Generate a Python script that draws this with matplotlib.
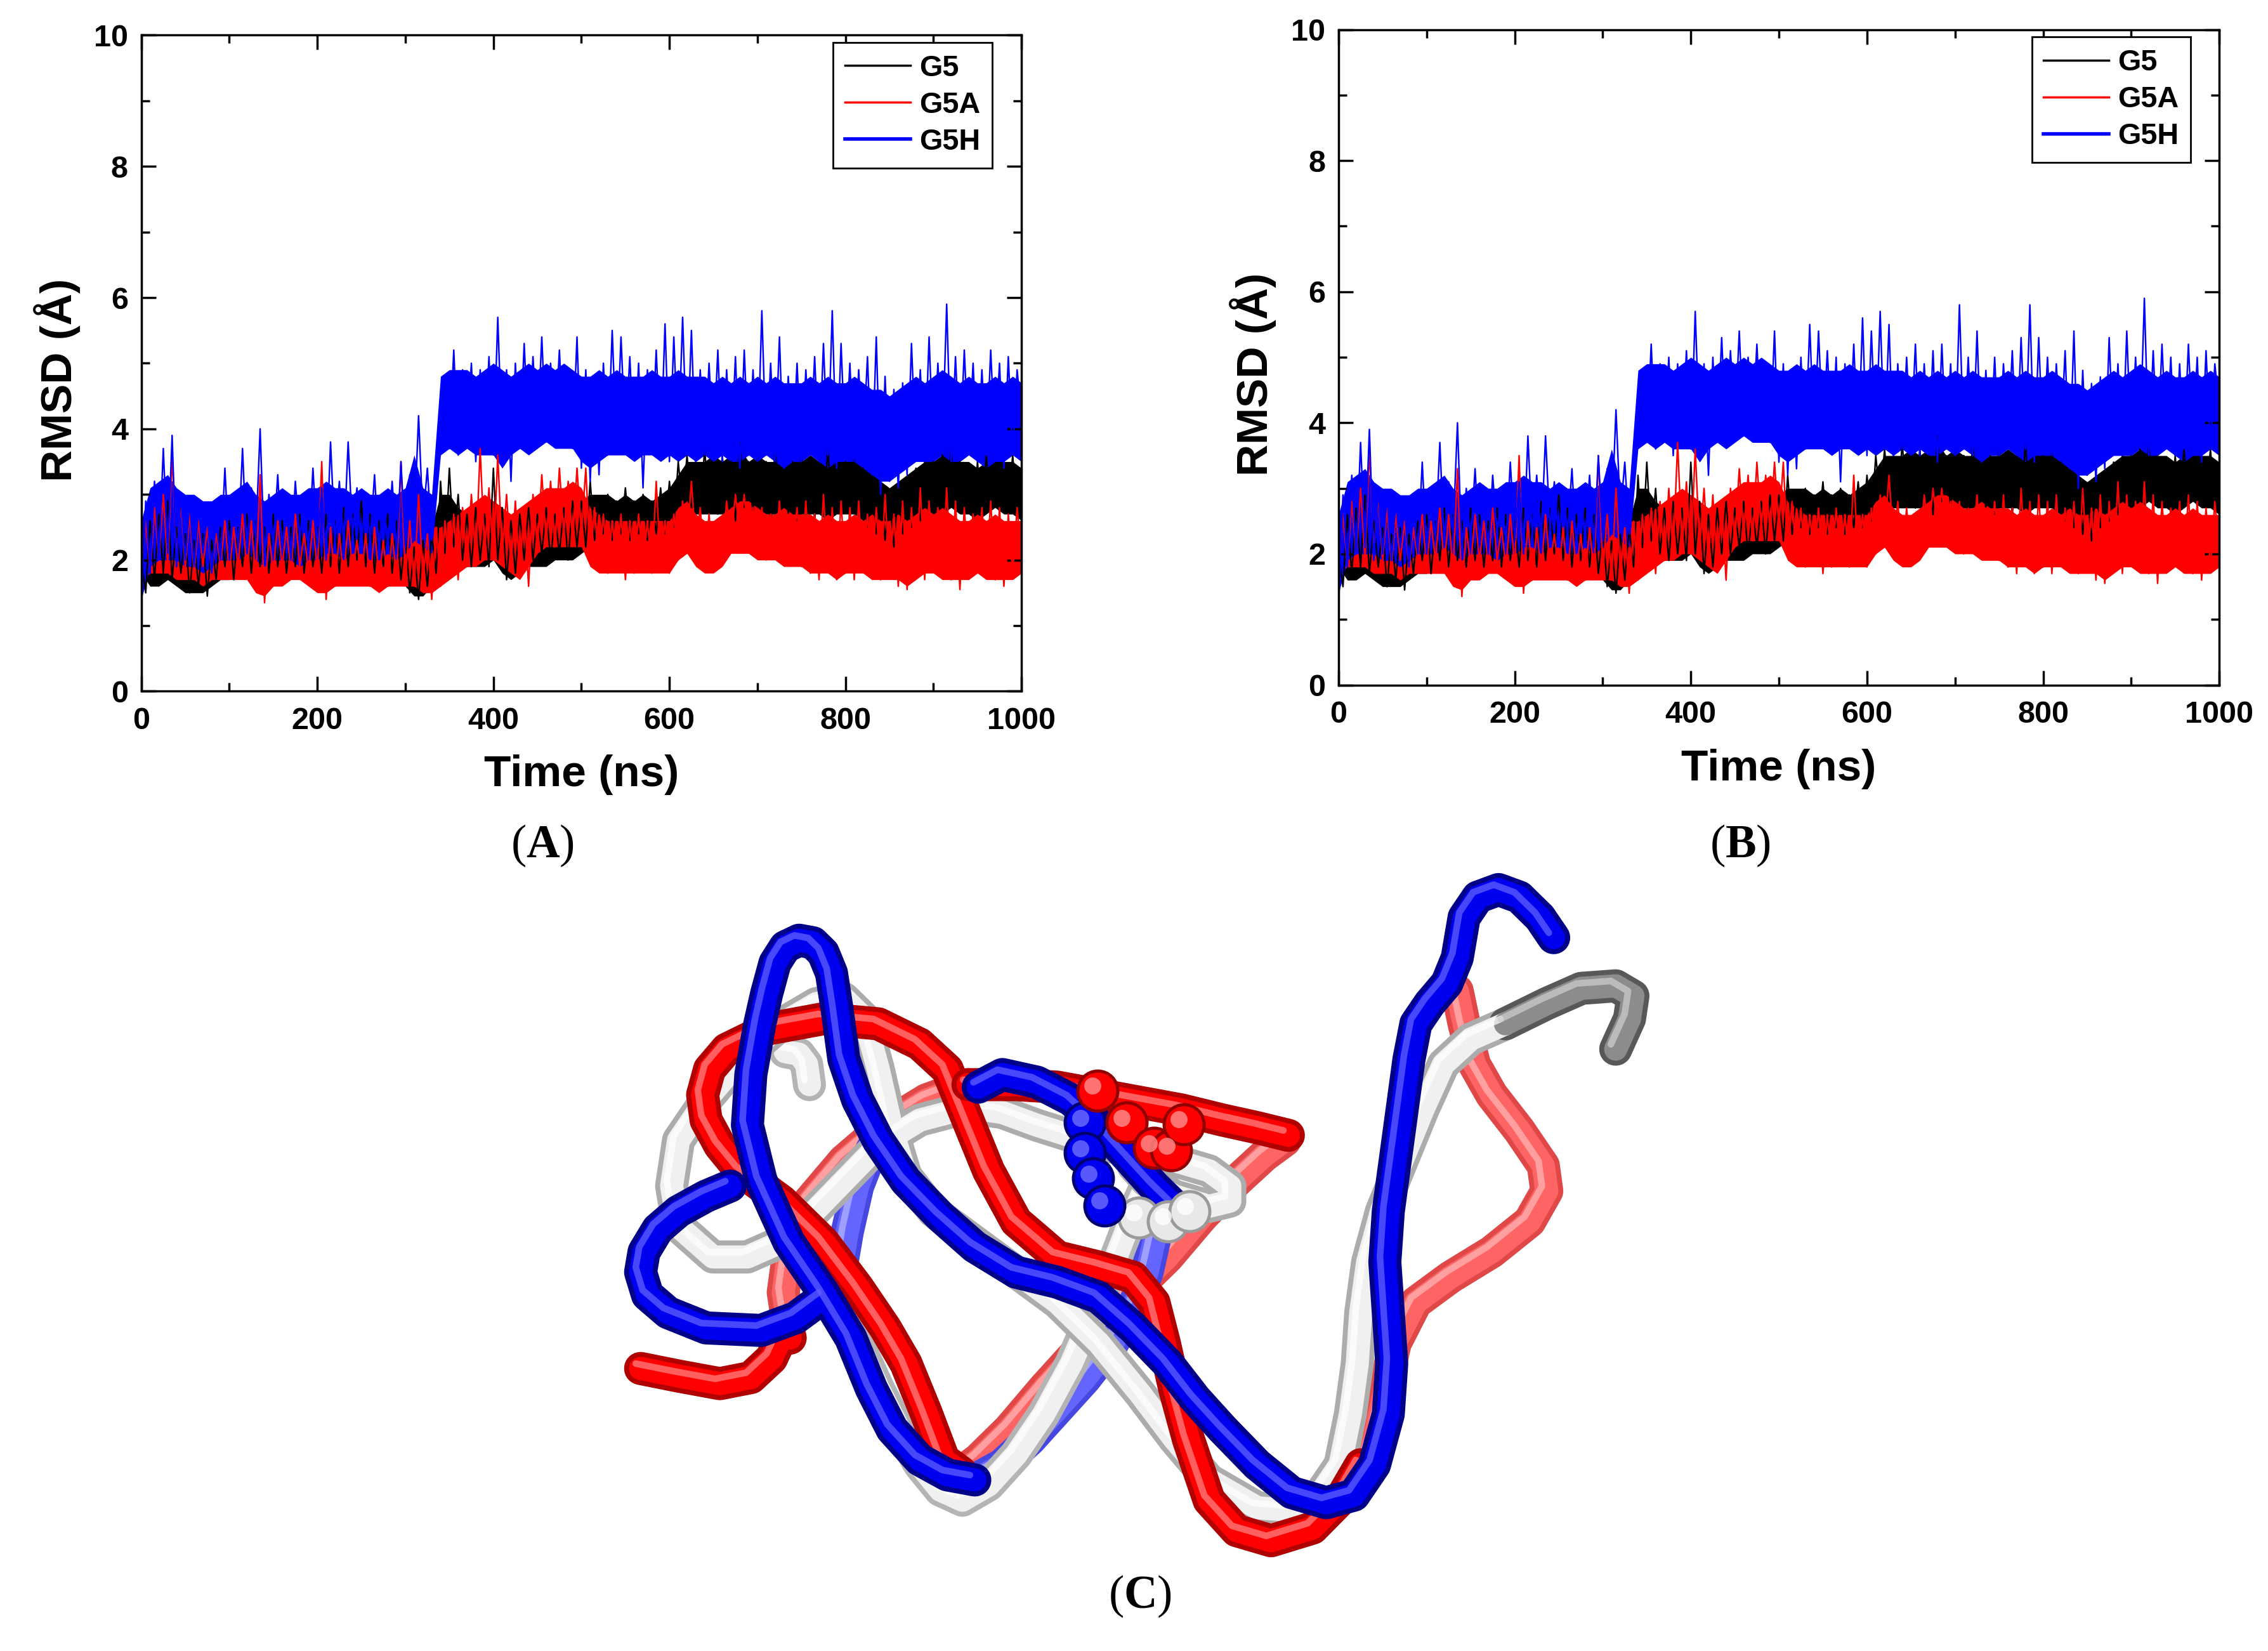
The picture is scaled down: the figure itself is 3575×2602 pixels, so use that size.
import numpy as np
import matplotlib
matplotlib.use('Agg')
import matplotlib.pyplot as plt
from matplotlib.ticker import MultipleLocator
from matplotlib.lines import Line2D
import matplotlib.transforms as mtransforms

plt.rcParams['font.family'] = ['Liberation Sans', 'DejaVu Sans']
plt.rcParams['font.weight'] = 'bold'
plt.rcParams['mathtext.fontset'] = 'custom'
plt.rcParams['mathtext.rm'] = 'Liberation Serif'
plt.rcParams['mathtext.bf'] = 'Liberation Serif:bold'

# ---- RMSD traces ----
# extremes of the noisy trace, every 5 ns
time_ns = np.arange(0, 1001, 5)
# solid core of each band, every 10 ns
core_ns = np.arange(0, 1001, 10)

rmsd_g5 = [
    2.0, 1.5, 2.6, 1.7, 2.7, 1.8, 2.9, 1.7, 2.5, 1.8, 2.4, 1.5, 2.3, 1.6, 2.4, 1.45, 2.3, 1.7, 2.5, 1.9,
    2.6, 1.7, 2.5, 1.9, 2.7, 1.8, 2.6, 1.9, 2.5, 1.8, 2.7, 1.9, 2.6, 1.8, 2.5, 1.9, 2.7, 1.8, 2.6, 1.9,
    2.5, 1.8, 2.7, 1.9, 2.6, 1.8, 2.8, 1.9, 2.7, 2.0, 2.9, 1.9, 2.7, 1.8, 2.6, 1.9, 2.7, 1.8, 2.6, 1.7,
    2.4, 1.5, 2.2, 1.4, 2.3, 1.6, 2.4, 1.8, 3.2, 2.1, 3.4, 2.2, 3.0, 2.0, 2.7, 1.9, 2.8, 2.0, 2.7, 1.9,
    3.4, 2.0, 2.8, 1.7, 2.6, 1.8, 2.7, 2.0, 2.8, 2.0, 2.7, 2.1, 2.8, 2.0, 2.7, 2.1, 2.8, 2.0, 2.9, 2.2,
    2.9, 2.2, 3.2, 2.3, 2.9, 2.4, 3.0, 2.3, 2.9, 2.4, 3.1, 2.3, 2.9, 2.4, 3.0, 2.3, 2.9, 2.4, 3.1, 2.4,
    3.2, 2.5, 3.5, 2.8, 3.6, 2.8, 3.5, 2.7, 3.7, 2.8, 3.4, 2.7, 3.6, 2.8, 3.5, 2.6, 3.8, 2.8, 3.5, 2.7,
    3.6, 2.7, 3.5, 2.6, 3.7, 2.8, 3.4, 2.7, 3.5, 2.6, 3.6, 2.7, 3.5, 2.6, 3.4, 2.7, 3.7, 2.6, 3.5, 2.7,
    3.5, 2.6, 3.6, 2.7, 3.4, 2.5, 3.3, 2.4, 3.2, 2.3, 3.0, 2.2, 3.1, 2.4, 3.2, 2.5, 3.4, 2.6, 3.5, 2.7,
    3.5, 2.7, 3.6, 2.8, 3.7, 2.7, 3.5, 2.8, 3.4, 2.6, 3.5, 2.7, 3.6, 2.8, 3.4, 2.7, 3.5, 2.8, 3.6, 2.7,
    3.1]

rmsd_g5a = [
    1.6, 2.6, 1.8, 2.8, 2.0, 3.0, 1.9, 3.6, 2.0, 2.9, 1.9, 2.7, 1.8, 2.6, 1.9, 2.5, 1.8, 2.4, 1.9, 2.6,
    1.8, 2.5, 1.9, 2.7, 1.8, 2.6, 1.7, 3.3, 1.35, 2.4, 1.8, 2.6, 1.9, 2.5, 1.8, 2.7, 1.9, 2.4, 1.8, 2.6,
    1.8, 3.5, 1.4, 2.5, 1.6, 2.4, 1.7, 2.6, 1.8, 2.3, 1.7, 2.4, 1.6, 2.5, 1.7, 2.3, 1.6, 2.4, 1.7, 3.5,
    1.7, 2.6, 1.6, 3.0, 1.7, 2.4, 1.4, 2.5, 1.6, 2.6, 1.8, 2.7, 1.7, 2.8, 1.9, 3.0, 2.0, 3.7, 2.1, 3.1,
    2.0, 3.6, 2.1, 3.0, 1.9, 2.9, 1.8, 2.8, 1.6, 3.0, 2.2, 3.3, 2.3, 3.2, 2.2, 3.4, 2.4, 3.2, 2.3, 3.4,
    2.4, 3.4, 2.0, 2.8, 1.9, 2.7, 1.8, 2.6, 1.9, 2.7, 1.7, 2.6, 1.8, 2.7, 1.9, 2.6, 1.8, 3.2, 1.9, 2.6,
    1.8, 2.7, 2.0, 2.9, 2.3, 3.2, 2.2, 2.8, 1.9, 2.7, 1.9, 2.6, 2.1, 2.9, 2.3, 3.0, 2.4, 3.0, 2.2, 2.8,
    2.1, 2.8, 2.0, 2.7, 2.1, 2.9, 2.0, 2.7, 2.1, 2.8, 1.9, 2.9, 1.8, 2.7, 1.7, 3.0, 1.9, 2.8, 1.7, 2.9,
    1.8, 2.8, 1.7, 2.9, 1.9, 2.7, 1.8, 2.8, 1.7, 3.0, 1.8, 2.7, 1.6, 2.9, 1.55, 2.8, 1.8, 3.1, 1.7, 2.9,
    1.9, 2.8, 1.8, 3.1, 1.7, 2.9, 1.55, 2.8, 1.8, 2.7, 1.9, 2.8, 1.8, 2.9, 1.7, 2.8, 1.6, 2.7, 1.8, 2.8,
    2.0]

rmsd_g5h = [
    1.2, 2.9, 1.8, 3.2, 2.0, 3.7, 2.1, 3.9, 1.9, 3.0, 2.0, 2.9, 1.9, 2.8, 2.1, 2.7, 1.8, 2.6, 2.0, 3.4,
    2.0, 3.0, 2.2, 3.7, 2.1, 3.1, 2.3, 4.0, 2.0, 3.0, 2.2, 3.3, 2.1, 2.9, 2.0, 3.2, 2.3, 3.0, 2.1, 3.4,
    2.2, 3.1, 2.0, 3.8, 2.3, 3.2, 2.2, 3.8, 2.4, 3.1, 2.2, 3.0, 2.3, 3.3, 2.1, 3.0, 2.2, 3.2, 2.1, 3.5,
    2.2, 3.3, 2.5, 4.2, 2.6, 3.4, 2.3, 3.1, 3.8, 4.8, 3.7, 5.2, 3.6, 4.9, 3.8, 5.0, 3.5, 4.9, 3.7, 5.1,
    3.6, 5.7, 3.7, 4.9, 3.2, 5.0, 3.7, 5.3, 3.8, 5.1, 3.9, 5.4, 3.8, 5.0, 3.9, 5.2, 3.8, 4.9, 3.7, 5.4,
    3.4, 4.9, 3.2, 4.8, 3.3, 5.0, 3.6, 5.5, 3.7, 5.4, 3.8, 5.1, 3.6, 5.0, 3.1, 4.9, 3.7, 5.2, 3.6, 5.6,
    3.5, 5.4, 3.7, 5.7, 3.6, 5.5, 3.5, 4.9, 3.6, 5.0, 3.7, 5.2, 3.5, 4.9, 3.6, 5.1, 3.4, 5.2, 3.6, 4.9,
    3.5, 5.8, 3.6, 5.0, 3.5, 5.4, 3.4, 4.8, 3.6, 5.0, 3.5, 4.9, 3.7, 5.1, 3.5, 5.3, 3.6, 5.8, 3.4, 5.3,
    3.6, 5.0, 3.5, 4.9, 3.7, 5.1, 3.3, 5.4, 3.0, 4.8, 3.2, 4.6, 3.1, 4.7, 3.3, 5.3, 3.6, 4.9, 3.5, 5.4,
    3.6, 5.0, 3.7, 5.9, 3.5, 5.1, 3.6, 5.2, 3.7, 5.0, 3.5, 4.9, 3.6, 5.2, 3.7, 5.0, 3.4, 5.1, 3.6, 4.9,
    4.2]

g5_core_hi = [
    2.3, 2.5, 2.6, 2.5, 2.4, 2.4, 2.3, 2.3, 2.4, 2.5,
    2.5, 2.6, 2.5, 2.5, 2.6, 2.5, 2.5, 2.6, 2.5, 2.6,
    2.6, 2.6, 2.7, 2.6, 2.7, 2.8, 2.7, 2.6, 2.6, 2.5,
    2.4, 2.2, 2.3, 2.5, 3.0, 3.0, 2.8, 2.7, 2.7, 2.8,
    2.9, 2.8, 2.6, 2.7, 2.8, 2.8, 2.7, 2.8, 2.8, 2.9,
    2.9, 3.0, 3.0, 3.0, 2.9, 3.0, 2.9, 3.0, 2.9, 3.0,
    3.1, 3.3, 3.5, 3.5, 3.5, 3.6, 3.5, 3.6, 3.7, 3.5,
    3.6, 3.5, 3.5, 3.6, 3.5, 3.5, 3.6, 3.5, 3.5, 3.6,
    3.5, 3.6, 3.5, 3.4, 3.2, 3.1, 3.2, 3.3, 3.4, 3.5,
    3.5, 3.6, 3.6, 3.5, 3.5, 3.4, 3.5, 3.6, 3.5, 3.5,
    3.4]
g5_core_lo = [
    1.8, 1.6, 1.6, 1.7, 1.6, 1.5, 1.5, 1.5, 1.6, 1.7,
    1.7, 1.8, 1.7, 1.8, 1.7, 1.8, 1.7, 1.8, 1.8, 1.7,
    1.8, 1.8, 1.9, 1.8, 1.8, 1.9, 1.8, 1.8, 1.7, 1.7,
    1.6, 1.45, 1.45, 1.6, 2.1, 2.1, 2.0, 1.9, 1.9, 1.9,
    2.0, 1.8, 1.7, 1.8, 1.9, 1.9, 1.9, 2.0, 2.0, 2.0,
    2.1, 2.2, 2.2, 2.2, 2.2, 2.2, 2.2, 2.2, 2.2, 2.2,
    2.3, 2.5, 2.7, 2.7, 2.7, 2.7, 2.7, 2.7, 2.8, 2.7,
    2.7, 2.7, 2.7, 2.7, 2.6, 2.7, 2.7, 2.7, 2.6, 2.7,
    2.7, 2.7, 2.6, 2.5, 2.3, 2.2, 2.3, 2.4, 2.6, 2.7,
    2.7, 2.7, 2.8, 2.7, 2.7, 2.6, 2.7, 2.8, 2.7, 2.7,
    2.6]

g5a_core_hi = [
    2.2, 2.6, 2.7, 2.6, 2.5, 2.5, 2.4, 2.4, 2.4, 2.5,
    2.4, 2.4, 2.5, 2.4, 2.3, 2.4, 2.4, 2.5, 2.4, 2.4,
    2.4, 2.4, 2.3, 2.4, 2.3, 2.3, 2.4, 2.3, 2.4, 2.3,
    2.4, 2.4, 2.3, 2.5, 2.5, 2.6, 2.7, 2.8, 2.9, 3.0,
    2.9, 2.8, 2.7, 2.8, 2.9, 3.0, 3.1, 3.1, 3.1, 3.2,
    3.1, 2.8, 2.7, 2.6, 2.6, 2.6, 2.6, 2.6, 2.6, 2.6,
    2.6, 2.8, 2.9, 2.7, 2.6, 2.6, 2.7, 2.8, 2.9, 2.9,
    2.8, 2.7, 2.7, 2.8, 2.7, 2.7, 2.7, 2.6, 2.7, 2.6,
    2.6, 2.7, 2.6, 2.7, 2.6, 2.6, 2.7, 2.6, 2.7, 2.8,
    2.7, 2.8, 2.7, 2.6, 2.6, 2.7, 2.6, 2.7, 2.6, 2.6,
    2.6]
g5a_core_lo = [
    1.7, 1.8, 1.8, 1.8, 1.7, 1.7, 1.7, 1.6, 1.7, 1.7,
    1.7, 1.7, 1.7, 1.5, 1.45, 1.6, 1.6, 1.7, 1.7, 1.6,
    1.5, 1.5, 1.6, 1.6, 1.6, 1.6, 1.6, 1.5, 1.6, 1.6,
    1.6, 1.6, 1.5, 1.5, 1.6, 1.7, 1.8, 1.9, 1.9, 2.0,
    2.0, 1.9, 1.8, 1.7, 1.9, 2.1, 2.2, 2.2, 2.2, 2.2,
    2.2, 1.9, 1.8, 1.8, 1.8, 1.8, 1.8, 1.8, 1.8, 1.8,
    1.8, 2.0, 2.1, 1.9, 1.8, 1.8, 1.9, 2.1, 2.1, 2.1,
    2.0, 2.0, 2.0, 1.9, 1.9, 1.9, 1.8, 1.8, 1.8, 1.7,
    1.8, 1.8, 1.8, 1.7, 1.7, 1.7, 1.7, 1.6, 1.7, 1.8,
    1.8, 1.7, 1.7, 1.7, 1.7, 1.8, 1.7, 1.7, 1.7, 1.7,
    1.8]

g5h_core_hi = [
    2.6, 3.1, 3.2, 3.3, 3.1, 3.0, 3.0, 2.9, 2.9, 3.0,
    3.0, 3.1, 3.2, 3.0, 2.9, 3.0, 3.1, 3.0, 3.0, 3.1,
    3.1, 3.2, 3.1, 3.1, 3.0, 3.1, 3.0, 3.0, 3.1, 3.0,
    3.1, 3.6, 3.1, 3.0, 4.8, 4.9, 4.9, 4.9, 4.8, 4.9,
    5.0, 4.9, 4.8, 4.9, 5.0, 4.9, 5.0, 4.9, 5.0, 4.9,
    4.8, 4.8, 4.9, 4.8, 4.9, 4.8, 4.8, 4.8, 4.9, 4.8,
    4.8, 4.9, 4.8, 4.8, 4.8, 4.7, 4.8, 4.7, 4.8, 4.7,
    4.8, 4.7, 4.8, 4.7, 4.7, 4.7, 4.8, 4.7, 4.8, 4.7,
    4.7, 4.8, 4.7, 4.6, 4.6, 4.5, 4.6, 4.7, 4.8, 4.7,
    4.8, 4.9, 4.8, 4.7, 4.8, 4.7, 4.7, 4.8, 4.7, 4.8,
    4.7]
g5h_core_lo = [
    1.4, 1.9, 2.0, 2.0, 2.0, 1.9, 1.9, 1.8, 1.9, 2.0,
    2.0, 2.0, 2.1, 2.0, 1.9, 2.0, 2.0, 2.0, 1.9, 2.0,
    2.0, 2.1, 2.1, 2.0, 2.1, 2.1, 2.0, 2.0, 2.1, 2.0,
    2.1, 2.3, 2.2, 2.1, 3.6, 3.7, 3.6, 3.7, 3.6, 3.6,
    3.6, 3.4, 3.6, 3.7, 3.6, 3.7, 3.8, 3.7, 3.7, 3.7,
    3.5, 3.4, 3.5, 3.6, 3.6, 3.6, 3.5, 3.6, 3.6, 3.5,
    3.6, 3.5, 3.6, 3.5, 3.6, 3.5, 3.6, 3.5, 3.5, 3.6,
    3.5, 3.6, 3.5, 3.4, 3.5, 3.5, 3.6, 3.5, 3.4, 3.5,
    3.5, 3.5, 3.4, 3.3, 3.2, 3.2, 3.3, 3.4, 3.5, 3.5,
    3.5, 3.6, 3.5, 3.5, 3.6, 3.5, 3.4, 3.5, 3.5, 3.6,
    3.5]

series_names = ['G5', 'G5A', 'G5H']
series_colors = ['black', 'red', 'blue']
legend_widths = [1.0, 1.0, 1.6]
series = [(rmsd_g5, g5_core_lo, g5_core_hi),
          (rmsd_g5a, g5a_core_lo, g5a_core_hi),
          (rmsd_g5h, g5h_core_lo, g5h_core_hi)]

# ---- projected backbone traces for panel (C) (picture units, y downwards) ----
g5_end_x = [1470, 1490, 1495, 1470, 1420, 1370, 1310]
g5_end_y = [380, 320, 275, 255, 260, 290, 330]
g5_main_x = [1310, 1260, 1220, 1190, 1160, 1130, 1110, 1100, 1095, 1085, 1070, 1040, 1000, 950, 880, 830,
             780, 720, 660, 600, 540, 480, 440, 420, 400, 380, 350, 310, 260, 200, 150, 110, 100, 110,
             160, 210, 260, 300, 350, 400, 460, 530, 580, 630, 700, 760, 830, 880, 910, 910, 880, 830,
             790, 770]
g5_main_y = [330, 360, 410, 500, 600, 700, 800, 900, 1000, 1100, 1200, 1260, 1290, 1285, 1230, 1150,
             1060, 960, 880, 820, 760, 700, 630, 540, 420, 320, 280, 290, 330, 400, 480, 560, 650, 730,
             790, 790, 760, 710, 640, 570, 520, 495, 505, 530, 560, 580, 600, 620, 650, 680, 690, 670,
             640, 610]
g5_down_x = [785, 765, 745, 715, 680, 640, 600, 560, 522, 490, 460, 430, 400, 370, 330, 290, 255]
g5_down_y = [660, 720, 790, 890, 1000, 1100, 1180, 1240, 1270, 1250, 1200, 1130, 1050, 960, 860, 770, 700]
g5_stub_x = [300, 296, 285, 265]
g5_stub_y = [450, 410, 390, 385]

g5a_tail_x = [55, 110, 170, 215, 245, 262, 272]
g5a_tail_y = [1010, 1025, 1040, 1028, 990, 940, 950]
g5a_main_x = [520, 495, 470, 440, 410, 370, 320, 260, 200, 170, 150, 145, 155, 180, 240, 320, 400, 460,
              500, 530, 560, 600, 660, 720, 770, 800, 815, 830, 850, 880, 920, 970, 1030, 1070, 1100]
g5a_main_y = [1215, 1190, 1100, 1000, 930, 850, 760, 680, 620, 570, 520, 470, 420, 380, 340, 320, 330,
              370, 420, 520, 620, 720, 790, 810, 830, 880, 960, 1050, 1150, 1270, 1330, 1350, 1325, 1270,
              1200]
g5a_ring_x = [530, 600, 660, 720, 780, 840, 900, 950, 995]
g5a_ring_y = [450, 450, 455, 470, 485, 500, 520, 535, 550]
g5a_back1_x = [272, 262, 270, 300, 350, 410, 470, 530]
g5a_back1_y = [950, 860, 780, 680, 600, 530, 480, 450]
g5a_back2_x = [990, 960, 920, 870, 820, 760, 700, 640, 590, 545, 520]
g5a_back2_y = [560, 590, 640, 710, 790, 870, 960, 1050, 1130, 1190, 1215]
g5a_back3_x = [1240, 1250, 1265, 1290, 1330, 1365, 1370, 1345, 1290, 1230, 1180, 1150, 1135, 1120, 1100,
               1070]
g5a_back3_y = [265, 330, 410, 470, 540, 610, 660, 720, 780, 830, 880, 960, 1050, 1150, 1220, 1270]

g5h_main_x = [1380, 1360, 1330, 1300, 1270, 1250, 1240, 1225, 1200, 1180, 1170, 1160, 1150, 1140, 1135,
              1140, 1145, 1140, 1120, 1090, 1050, 1000, 950, 900, 860, 820, 770, 720, 660, 600, 540, 490,
              440, 400, 370, 350, 340, 332, 320, 305, 285, 265, 250, 238, 228, 215, 210, 230, 270, 320,
              360, 390, 420, 460, 500, 540]
g5h_main_y = [160, 120, 80, 65, 80, 120, 200, 250, 290, 330, 400, 500, 600, 700, 800, 900, 1000, 1100,
              1200, 1260, 1275, 1255, 1200, 1130, 1070, 1000, 930, 870, 840, 820, 770, 710, 640, 560, 480,
              400, 300, 230, 190, 170, 165, 178, 210, 270, 330, 430, 530, 640, 760, 860, 950, 1050, 1130,
              1190, 1220, 1230]
g5h_top_x = [545, 580, 630, 680, 720, 760, 800, 830]
g5h_top_y = [455, 430, 445, 480, 530, 590, 650, 690]
g5h_loop_x = [185, 150, 110, 80, 60, 55, 65, 95, 150, 230, 280, 320]
g5h_loop_y = [650, 670, 700, 735, 780, 820, 865, 900, 930, 935, 910, 870]
g5h_back1_x = [540, 580, 620, 660, 700, 740, 770, 790, 800, 810, 820]
g5h_back1_y = [1230, 1200, 1150, 1090, 1030, 960, 890, 820, 760, 700, 680]
g5h_back2_x = [320, 345, 355, 370, 390, 410]
g5h_back2_y = [870, 820, 740, 650, 580, 530]

atoms_blue_x = [700, 700, 712, 728]
atoms_blue_y = [525, 585, 635, 688]
atoms_red_x = [718, 760, 800, 825, 843]
atoms_red_y = [462, 525, 575, 580, 528]
atoms_white_x = [778, 820, 852]
atoms_white_y = [712, 720, 700]

W, H, DPI = 3575, 2602, 250
fig = plt.figure(figsize=(W / DPI, H / DPI), dpi=DPI)
fig.patch.set_facecolor('white')

panels = [
    # axes rect, ylabel coords, xlabel coords, legend anchor, tag, tag pos
    ([0.0623, 0.5813, 0.3881, 0.3974], (-0.0957, 0.474), (0.5, -0.127), (0.9668, 0.9889), 'A', (0.2392, 0.4877)),
    ([0.5902, 0.5851, 0.3883, 0.3970], (-0.0973, 0.474), (0.5, -0.128), (0.9678, 0.9885), 'B', (0.7673, 0.4877)),
]

for rect, ylab, xlab, leg_anchor, tag, tag_pos in panels:
    ax = fig.add_axes(rect)
    for (vals, lo, hi), c in zip(series, series_colors):
        ax.fill_between(core_ns, lo, hi, color=c, lw=0)
        ax.plot(time_ns, vals, color=c, lw=0.7)
    ax.set_xlim(0, 1000)
    ax.set_ylim(0, 10)
    ax.xaxis.set_major_locator(MultipleLocator(200))
    ax.xaxis.set_minor_locator(MultipleLocator(100))
    ax.yaxis.set_major_locator(MultipleLocator(2))
    ax.yaxis.set_minor_locator(MultipleLocator(1))
    ax.tick_params(which='both', direction='in', top=True, right=True, width=1.0)
    ax.tick_params(which='major', length=6.5, labelsize=14)
    ax.tick_params(which='minor', length=3.7)
    ax.tick_params(axis='x', which='major', pad=7)
    ax.tick_params(axis='y', which='major', pad=6)
    for s in ax.spines.values():
        s.set_linewidth(1.0)
    ax.set_xlabel('Time (ns)', fontsize=20, fontweight='bold', va='center')
    ax.set_ylabel('RMSD (Å)', fontsize=20, fontweight='bold', va='center')
    ax.xaxis.set_label_coords(*xlab)
    ax.yaxis.set_label_coords(*ylab)

    handles = [Line2D([], [], color=c, lw=w) for c, w in zip(series_colors, legend_widths)]
    leg = ax.legend(handles, series_names, loc='upper right', bbox_to_anchor=leg_anchor,
                    borderaxespad=0, fontsize=13.5, handlelength=2.2, handletextpad=0.3,
                    labelspacing=0.3, borderpad=0.4, fancybox=False, framealpha=1,
                    edgecolor='black')
    leg.get_frame().set_linewidth(0.8)
    for txt in leg.get_texts():
        txt.set_fontweight('bold')

    fig.text(tag_pos[0], tag_pos[1], r'($\mathbf{%s}$)' % tag, fontsize=21,
             family='Liberation Serif', fontweight='normal', ha='center', va='center')

# ---- panel (C): overlaid backbone tubes ----
axc = fig.add_axes([950 / W, 2 / H, 1700 / W, 1250 / H])
axc.set_xlim(0, 1565)
axc.set_ylim(1565, 0)
axc.axis('off')

hl_shift = mtransforms.offset_copy(axc.transData, fig=fig, x=-2.2, y=2.2, units='points')


def tube(xs, ys, body, edge, shine, z, lw=15.0):
    kw = dict(solid_capstyle='round', solid_joinstyle='round')
    axc.plot(xs, ys, color=edge, lw=lw, zorder=z, **kw)
    axc.plot(xs, ys, color=body, lw=lw * 0.7, zorder=z + 0.1, **kw)
    axc.plot(xs, ys, color=shine, lw=lw * 0.2, alpha=0.75, zorder=z + 0.2,
             transform=hl_shift, **kw)


# back (faded) strands
tube(g5a_back1_x, g5a_back1_y, '#ff6464', '#e04848', '#ffb4b4', 1)
tube(g5a_back2_x, g5a_back2_y, '#ff6464', '#e04848', '#ffb4b4', 1)
tube(g5a_back3_x, g5a_back3_y, '#ff6464', '#e04848', '#ffb4b4', 1)
tube(g5h_back1_x, g5h_back1_y, '#6464ff', '#4646e0', '#b4b4ff', 1.5)
tube(g5h_back2_x, g5h_back2_y, '#6464ff', '#4646e0', '#b4b4ff', 1.5)

# G5 (white)
tube(g5_down_x, g5_down_y, '#f0f0f0', '#b4b4b4', 'white', 2)
tube(g5_stub_x, g5_stub_y, '#f0f0f0', '#b4b4b4', 'white', 2)
tube(g5_main_x, g5_main_y, '#f0f0f0', '#acacac', 'white', 3)
tube(g5_end_x, g5_end_y, '#8c8c8c', '#585858', '#cccccc', 3)

# G5A (red)
tube(g5a_tail_x, g5a_tail_y, '#ff0000', '#b00000', '#ff8080', 4)
tube(g5a_main_x, g5a_main_y, '#ff0000', '#b00000', '#ff8080', 4)
tube(g5a_ring_x, g5a_ring_y, '#ff0000', '#b00000', '#ff8080', 6)

# G5H (blue)
tube(g5h_loop_x, g5h_loop_y, '#0000f0', '#000088', '#6060ff', 5)
tube(g5h_main_x, g5h_main_y, '#0000f0', '#000088', '#6060ff', 5)
tube(g5h_top_x, g5h_top_y, '#0000f0', '#000088', '#6060ff', 7)

# side-chain atoms
for xs, ys, body, edge, shine in [(atoms_white_x, atoms_white_y, '#e8e8e8', '#9a9a9a', 'white'),
                                  (atoms_blue_x, atoms_blue_y, '#0000f0', '#000070', '#7070ff'),
                                  (atoms_red_x, atoms_red_y, '#ff0000', '#900000', '#ff9090')]:
    axc.scatter(xs, ys, s=330, color=body, edgecolor=edge, linewidth=1.4, zorder=8)
    axc.scatter(xs, ys, s=60, color=shine, linewidth=0, alpha=0.8, zorder=8.1, transform=hl_shift)

fig.text(1797 / W, 1 - 2516 / H, r'($\mathbf{C}$)', fontsize=21, family='Liberation Serif',
         fontweight='normal', ha='center', va='center')

fig.savefig('out.png', dpi=DPI, facecolor='white')
